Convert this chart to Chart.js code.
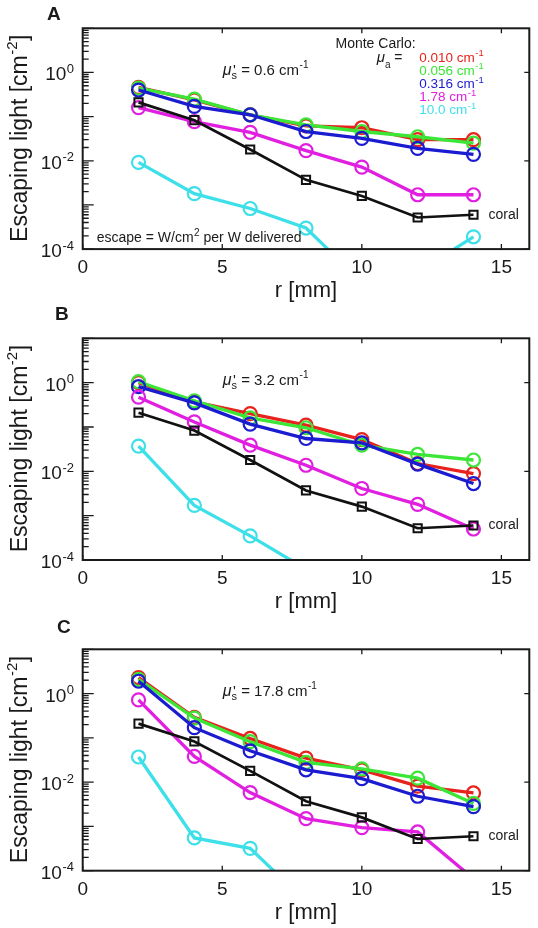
<!DOCTYPE html>
<html>
<head>
<meta charset="utf-8">
<script src="https://cdn.jsdelivr.net/npm/chart.js@4/dist/chart.umd.min.js"></script>
<style>
html, body { margin: 0; padding: 0; background: #fff; }
body { width: 538px; height: 928px; position: relative; overflow: hidden; }
canvas { position: absolute; left: 0; }
</style>
</head>
<body>
<canvas id="chartA" width="538" height="310" style="top:0px"></canvas>
<canvas id="chartB" width="538" height="318" style="top:300px"></canvas>
<canvas id="chartC" width="538" height="318" style="top:610px"></canvas>
<script>
// r [mm]
const r = [2, 4, 6, 8, 10, 12, 14];
// measured coral (same in all panels)
const coral = [0.21, 0.083, 0.018, 0.0037, 0.0016, 0.00052, 0.0006];

// Monte Carlo, mu_s' = 0.6
const redA = [0.46, 0.24, 0.11, 0.062, 0.056, 0.030, 0.030];
const greenA = [0.44, 0.25, 0.11, 0.065, 0.046, 0.035, 0.025];
const blueA = [0.40, 0.17, 0.11, 0.046, 0.032, 0.019, 0.014];
const magentaA = [0.16, 0.077, 0.044, 0.017, 0.0072, 0.0017, 0.0017];
const cyanA = [0.0092, 0.0018, 0.00083, 0.0003, 0.000018, 0.00003, 0.00019];

// mu_s' = 3.2
const redB = [1.0, 0.37, 0.20, 0.11, 0.052, 0.015, 0.0089];
const greenB = [1.05, 0.39, 0.16, 0.096, 0.039, 0.024, 0.018];
const blueB = [0.81, 0.35, 0.116, 0.055, 0.044, 0.0145, 0.0053];
const magentaB = [0.47, 0.13, 0.039, 0.0137, 0.0041, 0.0018, 0.0005];
const cyanB = [0.037, 0.0017, 0.00035, 0.000062, null, null, null];

// mu_s' = 17.8
const redC = [2.3, 0.29, 0.097, 0.035, 0.019, 0.0081, 0.0057];
const greenC = [2.1, 0.28, 0.082, 0.028, 0.020, 0.0123, 0.0033];
const blueC = [1.9, 0.17, 0.051, 0.019, 0.012, 0.0048, 0.0028];
const magentaC = [0.72, 0.038, 0.0058, 0.0015, 0.00094, 0.00075, 0.000066];
const cyanC = [0.037, 0.00055, 0.00032, 0.00002, null, null, null];

const muaLabels = ['0.010', '0.056', '0.316', '1.78', '10.0'];
const muaColors = ['#e8221c', '#3be636', '#1b1bd0', '#e01fe0', '#3ddfe8'];
const panelLetters = ['A', 'B', 'C'];
const musLabels = ['0.6', '3.2', '17.8'];
const xTicks = [0, 5, 10, 15];
const yTickExp = [-4, -2, 0];

const FAM = '"Liberation Sans", Arial, Helvetica, sans-serif';
const f = (size, style) => (style ? style + ' ' : '') + size + 'px ' + FAM;
const INK = '#1a1a1a';

// draws a bit of text (optionally raised / lowered), returns end x
function piece(ctx, txt, x, y, size, dy, style) {
  ctx.font = f(size, style);
  ctx.fillText(txt, x, y + (dy || 0));
  return x + ctx.measureText(txt).width;
}

const decor = {
  id: 'decor',
  afterDatasetsDraw(chart, args, o) {
    const { ctx, chartArea: a, scales: { x, y } } = chart;
    ctx.save();
    ctx.strokeStyle = INK;
    ctx.fillStyle = INK;
    ctx.textAlign = 'left';
    ctx.textBaseline = 'alphabetic';

    // ticks
    ctx.lineWidth = 1.3;
    ctx.beginPath();
    for (let e = -4; e <= 1; e++) {
      const yy = y.getPixelForValue(Math.pow(10, e));
      ctx.moveTo(a.left, yy); ctx.lineTo(a.left + 11, yy);
      if (e < 1) {
        for (let m = 2; m <= 9; m++) {
          const ym = y.getPixelForValue(m * Math.pow(10, e));
          ctx.moveTo(a.left, ym); ctx.lineTo(a.left + 6, ym);
        }
      }
    }
    yTickExp.forEach(e => {
      const yy = y.getPixelForValue(Math.pow(10, e));
      ctx.moveTo(a.right, yy); ctx.lineTo(a.right - 5, yy);
    });
    xTicks.forEach(v => {
      const xx = x.getPixelForValue(v);
      ctx.moveTo(xx, a.top); ctx.lineTo(xx, a.top + 5);
      ctx.moveTo(xx, a.bottom); ctx.lineTo(xx, a.bottom - 5);
    });
    ctx.stroke();
    ctx.lineWidth = 2;
    ctx.strokeRect(a.left, a.top, a.right - a.left, a.bottom - a.top);

    // x tick labels
    ctx.font = f(19);
    ctx.textAlign = 'center';
    ctx.textBaseline = 'middle';
    xTicks.forEach(v => ctx.fillText(String(v), x.getPixelForValue(v), a.bottom + 19));

    // y tick labels 10^e
    ctx.textAlign = 'left';
    ctx.textBaseline = 'alphabetic';
    yTickExp.forEach(e => {
      const yy = y.getPixelForValue(Math.pow(10, e));
      const s = String(e);
      ctx.font = f(13);
      const ws = ctx.measureText(s).width;
      ctx.font = f(19);
      const wb = ctx.measureText('10').width;
      const x0 = 74 - ws - wb - 0.5;
      ctx.fillText('10', x0, yy + 8);
      piece(ctx, s, x0 + wb + 0.5, yy + 0.5, 13);
    });

    // x title
    ctx.font = f(22);
    ctx.textAlign = 'center';
    ctx.fillText('r [mm]', (a.left + a.right) / 2, a.bottom + 48);

    // y title
    ctx.save();
    ctx.translate(26.5, (a.top + a.bottom) / 2);
    ctx.rotate(-Math.PI / 2);
    ctx.textAlign = 'left';
    ctx.font = f(23);
    const t1 = 'Escaping light [cm', t3 = ']';
    const w1 = ctx.measureText(t1).width, w3 = ctx.measureText(t3).width;
    ctx.font = f(15);
    const w2 = ctx.measureText('-2').width;
    let tx = -(w1 + w2 + w3) / 2;
    tx = piece(ctx, t1, tx, 0, 23);
    tx = piece(ctx, '-2', tx + 0.5, 0, 15, -10);
    piece(ctx, t3, tx + 0.5, 0, 23);
    ctx.restore();

    ctx.textAlign = 'left';
    // panel letter
    ctx.font = f(19, 'bold');
    ctx.fillText(o.letter, o.letterX, a.top + o.letterDy);

    // mu_s' annotation
    let mx = 222.7;
    const mb = a.top + 46.3;
    mx = piece(ctx, '\u03bc', mx, mb, 16, 0, 'italic');
    const sx = piece(ctx, 's', mx, mb, 11, 4.5);
    mx = piece(ctx, "'", mx + 1.5, mb, 15);
    mx = Math.max(mx, sx);
    mx = piece(ctx, ' = ' + o.mus + ' cm', mx, mb, 15);
    piece(ctx, '-1', mx + 0.5, mb, 10, -6.5);

    // coral label at last coral point
    ctx.font = f(14);
    ctx.textBaseline = 'middle';
    ctx.fillText('coral', x.getPixelForValue(r[r.length - 1]) + 15, y.getPixelForValue(coral[coral.length - 1]));
    ctx.textBaseline = 'alphabetic';

    if (o.legend) {
      ctx.fillStyle = INK;
      piece(ctx, 'Monte Carlo:', 335.5, 48.3, 14);
      let lx = piece(ctx, '\u03bc', 376.7, 62, 15, 0, 'italic');
      lx = piece(ctx, 'a', lx, 62, 10, 5.5);
      piece(ctx, ' =', lx, 62, 14);
      muaLabels.forEach((lab, i) => {
        ctx.fillStyle = muaColors[i];
        const by = 61.7 + i * 13.15;
        const ex = piece(ctx, lab + ' cm', 419.3, by, 13.5);
        piece(ctx, '-1', ex + 0.5, by, 9.5, -5.5);
      });
      ctx.fillStyle = INK;
      let ex = piece(ctx, 'escape = W/cm', 96.7, a.bottom - 7.4, 14);
      ex = piece(ctx, '2', ex + 0.5, a.bottom - 7.4, 10, -6);
      piece(ctx, ' per W delivered', ex, a.bottom - 7.4, 14);
    }
    ctx.restore();
  }
};

function pts(vals) {
  return r.map((xv, i) => ({ x: xv, y: vals[i] }));
}

function mcSet(vals, i) {
  return {
    data: pts(vals),
    borderColor: muaColors[i],
    borderWidth: 3.3,
    pointStyle: 'circle',
    pointRadius: 6.5,
    pointBorderWidth: 2.2,
    pointBorderColor: muaColors[i],
    pointBackgroundColor: 'rgba(0,0,0,0)',
    tension: 0,
    order: 5 - i
  };
}

function makePanel(id, k, series, padTop, bottomSpace, letterX, letterDy) {
  const ds = series.map((s, i) => mcSet(s, i));
  ds.push({
    data: pts(coral),
    borderColor: '#111',
    borderWidth: 2.7,
    pointStyle: 'rect',
    pointRadius: 5.8,
    pointBorderWidth: 2,
    pointBorderColor: '#111',
    pointBackgroundColor: 'rgba(0,0,0,0)',
    tension: 0,
    order: 0
  });
  return new Chart(document.getElementById(id), {
    type: 'line',
    data: { datasets: ds },
    options: {
      responsive: false,
      animation: false,
      layout: { padding: { top: padTop, right: 7.5, left: 0, bottom: 0 } },
      plugins: {
        legend: { display: false },
        tooltip: { enabled: false },
        decor: {
          letter: panelLetters[k],
          mus: musLabels[k],
          legend: k === 0,
          letterX: letterX,
          letterDy: letterDy
        }
      },
      scales: {
        x: {
          type: 'linear', min: 0, max: 16,
          ticks: { display: false },
          grid: { display: false },
          border: { display: false },
          afterFit: s => { s.height = bottomSpace; }
        },
        y: {
          type: 'logarithmic', min: 1e-4, max: 10,
          ticks: { display: false },
          grid: { display: false },
          border: { display: false },
          afterFit: s => { s.width = 82.7; }
        }
      }
    },
    plugins: [decor]
  });
}

makePanel('chartA', 0, [redA, greenA, blueA, magentaA, cyanA], 28.3, 60.9, 47, -8.3);
makePanel('chartB', 1, [redB, greenB, blueB, magentaB, cyanB], 38.3, 58, 55, -18.3);
makePanel('chartC', 2, [redC, greenC, blueC, magentaC, cyanC], 39.3, 57.3, 57, -16.3);
</script>
</body>
</html>
